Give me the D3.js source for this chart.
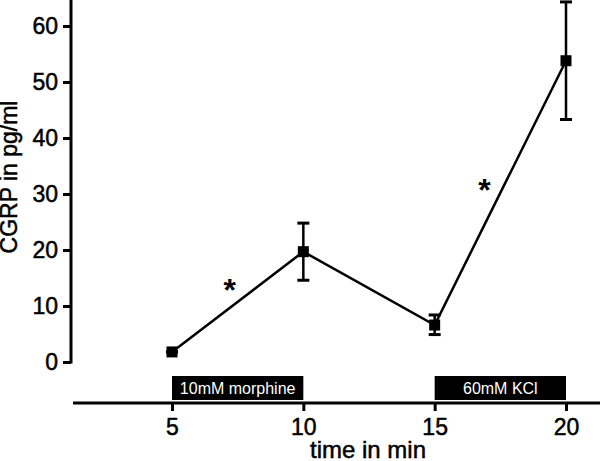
<!DOCTYPE html>
<html>
<head>
<meta charset="utf-8">
<script src="https://cdn.jsdelivr.net/npm/d3@7"></script>
<style>
  body { margin: 0; background: #fff; }
  svg { display: block; font-family: "Liberation Sans", Arial, sans-serif; }
  .heavy { stroke: #000; stroke-width: 0.5px; }
</style>
</head>
<body>
<div id="chart"></div>
<script>
// data
const times = [5, 10, 15, 20];
const means = [1.8, 19.7, 6.6, 53.8];
const errLo = [1.8, 14.6, 4.9, 43.3];
const errHi = [1.8, 24.8, 8.4, 64.3];
const yTicks = [0, 10, 20, 30, 40, 50, 60];
const xTicks = [5, 10, 15, 20];
const treatments = [
  {label: "10mM morphine", from: 5, to: 10},
  {label: "60mM KCl", from: 15, to: 20}
];
const stars = [{t: 7.2, v: 10.9}, {t: 16.9, v: 28.7}];

let dim = {width: 600, height: 461};

let svg = d3.select('#chart').append('svg')
  .attr('width', dim.width)
  .attr('height', dim.height);

let x = d3.scaleLinear().domain([5, 20]).range([172, 566]);
let y = d3.scaleLinear().domain([0, 60]).range([362, 26]);

// y axis
let yAxis = svg.append('g')
  .attr('transform', 'translate(71,0)')
  .call(d3.axisLeft(y).tickValues(yTicks).tickSize(8).tickPadding(5).tickSizeOuter(0));
yAxis.select('.domain').remove();
yAxis.append('line')
  .attr('x1', 0).attr('x2', 0)
  .attr('y1', 0).attr('y2', y(0) + 1.5)
  .attr('stroke', '#000').attr('stroke-width', 3);
yAxis.selectAll('.tick line').attr('stroke-width', 3);
yAxis.selectAll('.tick text')
  .attr('class', 'heavy')
  .attr('font-size', 23).attr('fill', '#000');

// x axis
let xAxis = svg.append('g')
  .attr('transform', 'translate(0,403)')
  .call(d3.axisBottom(x).tickValues(xTicks).tickSize(8).tickPadding(8).tickSizeOuter(0));
xAxis.select('.domain').remove();
xAxis.append('line')
  .attr('x1', 73).attr('x2', 600)
  .attr('stroke', '#000').attr('stroke-width', 3);
xAxis.selectAll('.tick line').attr('stroke-width', 3);
xAxis.selectAll('.tick text')
  .attr('class', 'heavy')
  .attr('font-size', 23).attr('fill', '#000');

// axis titles
svg.append('text')
  .attr('class', 'heavy')
  .attr('x', 368).attr('y', 458)
  .attr('text-anchor', 'middle')
  .attr('font-size', 24)
  .text('time in min');

svg.append('text')
  .attr('class', 'heavy')
  .attr('transform', 'translate(17,177) rotate(-90)')
  .attr('text-anchor', 'middle')
  .attr('font-size', 23)
  .text('CGRP in pg/ml');

// treatment bars
let tg = svg.selectAll('g.treat')
  .data(treatments)
  .enter().append('g').attr('class', 'treat');
tg.append('rect')
  .attr('x', d => x(d.from))
  .attr('y', 376)
  .attr('width', d => x(d.to) - x(d.from))
  .attr('height', 24)
  .attr('fill', '#000');
tg.append('text')
  .attr('x', d => (x(d.from) + x(d.to)) / 2)
  .attr('y', 394)
  .attr('text-anchor', 'middle')
  .attr('font-size', 16)
  .attr('fill', '#fff')
  .text(d => d.label);

const pts = times.map((t, i) => ({t, m: means[i], lo: errLo[i], hi: errHi[i]}));

// error bars
let eg = svg.selectAll('g.err').data(pts).enter().append('g').attr('class', 'err');
eg.append('line')
  .attr('x1', d => x(d.t)).attr('x2', d => x(d.t))
  .attr('y1', d => y(d.lo)).attr('y2', d => y(d.hi))
  .attr('stroke', '#000').attr('stroke-width', 2.5);
['lo', 'hi'].forEach(k => {
  eg.append('line')
    .attr('x1', d => x(d.t) - 6).attr('x2', d => x(d.t) + 6)
    .attr('y1', d => y(d[k])).attr('y2', d => y(d[k]))
    .attr('stroke', '#000').attr('stroke-width', 3);
});

// line
svg.append('path')
  .datum(pts)
  .attr('d', d3.line().x(d => x(d.t)).y(d => y(d.m)))
  .attr('fill', 'none')
  .attr('stroke', '#000')
  .attr('stroke-width', 2.5);

// markers
svg.selectAll('rect.pt')
  .data(pts)
  .enter().append('rect')
  .attr('class', 'pt')
  .attr('x', d => x(d.t) - 5.5)
  .attr('y', d => y(d.m) - 5.5)
  .attr('width', 11).attr('height', 11)
  .attr('fill', '#000');

// significance stars
svg.selectAll('text.star')
  .data(stars)
  .enter().append('text')
  .attr('class', 'star')
  .attr('x', d => x(d.t))
  .attr('y', d => y(d.v))
  .attr('text-anchor', 'middle')
  .attr('font-size', 32)
  .attr('font-weight', 'bold')
  .text('*');
</script>
</body>
</html>
